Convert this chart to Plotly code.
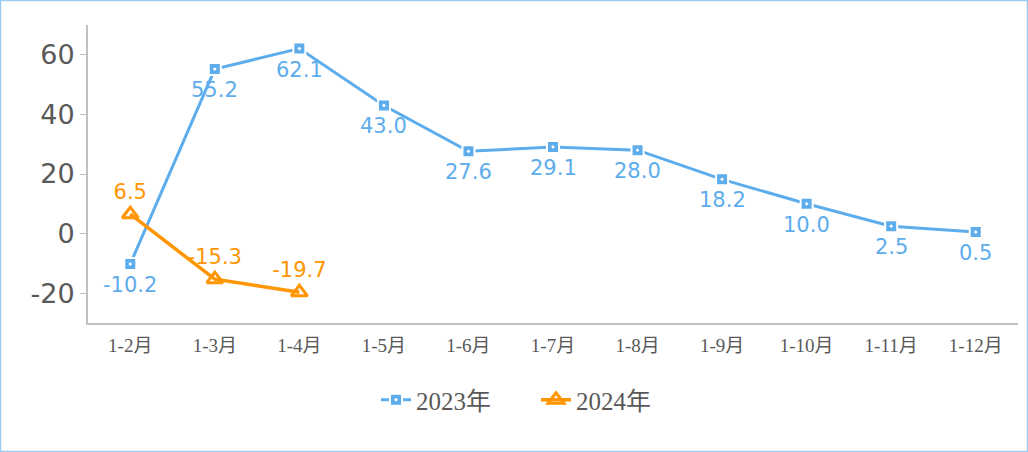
import plotly.graph_objects as go

categories = ["1-2月", "1-3月", "1-4月", "1-5月", "1-6月", "1-7月", "1-8月", "1-9月", "1-10月", "1-11月", "1-12月"]
values_2023 = [-10.2, 55.2, 62.1, 43.0, 27.6, 29.1, 28.0, 18.2, 10.0, 2.5, 0.5]
values_2024 = [6.5, -15.3, -19.7]
y_ticks = [-20, 0, 20, 40, 60]
y_tick_labels = ["-20", "0", "20", "40", "60"]

BLUE = "#5DADEC"
ORANGE = "#FF9500"

fig = go.Figure()
fig.add_trace(go.Scatter(
    x=categories, y=values_2023, name="2023年", mode="lines+markers",
    line=dict(color=BLUE, width=3),
    marker=dict(symbol="square-dot", size=12, color=BLUE, line=dict(color="white", width=2)),
))
fig.add_trace(go.Scatter(
    x=categories[:len(values_2024)], y=values_2024, name="2024年", mode="lines+markers+text",
    line=dict(color=ORANGE, width=3.5),
    marker=dict(symbol="triangle-up-open", size=14, color=ORANGE, line=dict(color=ORANGE, width=3)),
    text=[f"{v:.1f}" for v in values_2024], textposition="top center",
    textfont=dict(family="DejaVu Sans", size=21, color=ORANGE),
))

for c, v in zip(categories, values_2023):
    fig.add_annotation(x=c, y=v, text=f"{v:.1f}", showarrow=False, yanchor="top", yshift=-7,
                       font=dict(family="DejaVu Sans", size=21, color=BLUE))

W, H = 1028, 452
ml, mr, mt, mb = 88, 10, 25, 129
pw, ph = W - ml - mr, H - mt - mb

fig.update_layout(
    width=W, height=H,
    margin=dict(l=ml, r=mr, t=mt, b=mb, autoexpand=False),
    paper_bgcolor="white", plot_bgcolor="white",
    showlegend=True,
    legend=dict(orientation="h", x=(536 - ml) / pw, xanchor="center", y=(mt + ph - 400) / ph, yanchor="middle",
                font=dict(family="Liberation Serif, Noto Sans CJK SC", size=25, color="#595959"),
                itemwidth=30, entrywidth=115, entrywidthmode="pixels"),
    xaxis=dict(
        showgrid=False, showline=True, linecolor="#BFBFBF", linewidth=2,
        ticks="", automargin=False, ticklabelstandoff=4,
        tickfont=dict(family="Liberation Serif, Noto Sans CJK SC", size=19, color="#595959"),
        range=[-0.5, len(categories) - 0.5],
    ),
    yaxis=dict(
        range=[-30, 70], tickvals=y_ticks, ticktext=y_tick_labels, showgrid=False, zeroline=False,
        showline=True, linecolor="#BFBFBF", linewidth=2, automargin=False,
        ticks="outside", ticklen=6, tickcolor="#BFBFBF",
        tickfont=dict(family="DejaVu Sans", size=27, color="#595959"),
    ),
)

fig.add_shape(type="rect", xref="paper", yref="paper",
              x0=(0.5 - ml) / pw, x1=(W - 0.5 - ml) / pw,
              y0=(mt + ph - (H - 0.5)) / ph, y1=(mt + ph - 0.5) / ph,
              line=dict(color="#9DCBF0", width=1.5), fillcolor="rgba(0,0,0,0)", layer="below")

fig.write_html("out.html", config={"displayModeBar": False},
               post_script="document.body.style.margin='0';document.body.style.overflow='hidden';")
